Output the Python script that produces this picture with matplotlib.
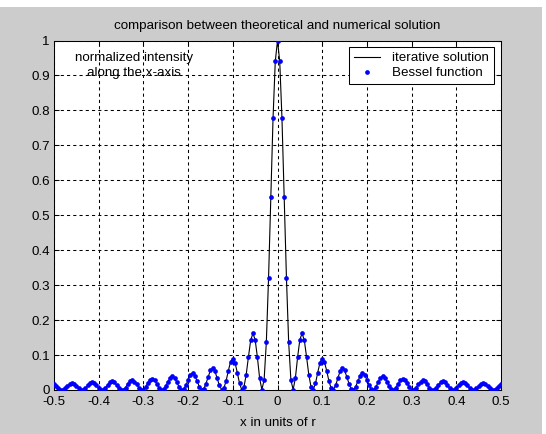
import numpy as np
import matplotlib
matplotlib.use("Agg")
import matplotlib.pyplot as plt
from matplotlib.patches import Rectangle

plt.rcParams['font.family'] = ['Liberation Sans', 'DejaVu Sans']

# sample positions along x (units of r)
x = np.linspace(-0.5, 0.5, 201)

# normalized intensity
intensity = [
    0.016, 0.011, 0.005, 0.001, 0.001, 0.005, 0.011, 0.017, 0.020, 0.018,
    0.012, 0.005, 0.001, 0.001, 0.005, 0.013, 0.019, 0.022, 0.019, 0.013,
    0.005, 0.001, 0.001, 0.006, 0.015, 0.022, 0.025, 0.022, 0.014, 0.006,
    0.001, 0.001, 0.007, 0.017, 0.025, 0.028, 0.024, 0.016, 0.006, 0.001,
    0.001, 0.009, 0.020, 0.029, 0.032, 0.028, 0.018, 0.007, 0.001, 0.002,
    0.011, 0.024, 0.035, 0.039, 0.034, 0.022, 0.008, 0.001, 0.002, 0.013,
    0.029, 0.043, 0.048, 0.041, 0.026, 0.010, 0.001, 0.003, 0.018, 0.038,
    0.056, 0.062, 0.054, 0.034, 0.013, 0.001, 0.005, 0.026, 0.055, 0.081,
    0.090, 0.078, 0.050, 0.019, 0.001, 0.009, 0.044, 0.095, 0.142, 0.162,
    0.144, 0.094, 0.034, 0.001, 0.028, 0.136, 0.321, 0.552, 0.777, 0.940,
    1.000,
    0.940, 0.777, 0.552, 0.321, 0.136, 0.028, 0.001, 0.034, 0.094, 0.144,
    0.162, 0.142, 0.095, 0.044, 0.009, 0.001, 0.019, 0.050, 0.078, 0.090,
    0.081, 0.055, 0.026, 0.005, 0.001, 0.013, 0.034, 0.054, 0.062, 0.056,
    0.038, 0.018, 0.003, 0.001, 0.010, 0.026, 0.041, 0.048, 0.043, 0.029,
    0.013, 0.002, 0.001, 0.008, 0.022, 0.034, 0.039, 0.035, 0.024, 0.011,
    0.002, 0.001, 0.007, 0.018, 0.028, 0.032, 0.029, 0.020, 0.009, 0.001,
    0.001, 0.006, 0.016, 0.024, 0.028, 0.025, 0.017, 0.007, 0.001, 0.001,
    0.006, 0.014, 0.022, 0.025, 0.022, 0.015, 0.006, 0.001, 0.001, 0.005,
    0.013, 0.019, 0.022, 0.019, 0.013, 0.005, 0.001, 0.001, 0.005, 0.012,
    0.018, 0.020, 0.017, 0.011, 0.005, 0.001, 0.001, 0.005, 0.011, 0.016,
]

xticks = [-0.5, -0.4, -0.3, -0.2, -0.1, 0, 0.1, 0.2, 0.3, 0.4, 0.5]
xticklabels = ['-0.5', '-0.4', '-0.3', '-0.2', '-0.1', '0', '0.1', '0.2', '0.3', '0.4', '0.5']
yticks = [0, 0.1, 0.2, 0.3, 0.4, 0.5, 0.6, 0.7, 0.8, 0.9, 1]
yticklabels = ['0', '0.1', '0.2', '0.3', '0.4', '0.5', '0.6', '0.7', '0.8', '0.9', '1']

fs = 9.6
W, H = 546, 434

fig = plt.figure(figsize=(W / 100, H / 100), dpi=100, facecolor='white')
# gray figure area (white margin on top and right like the screenshot)
fig.patches.append(Rectangle((0, 0), 542 / W, (H - 7) / H, transform=fig.transFigure,
                             facecolor='#cccccc', edgecolor='none', zorder=-10))

ax = fig.add_axes([54 / W, (H - 390) / H, (501 - 54) / W, (390 - 40.5) / H])
ax.set_facecolor('white')

ax.plot(x, intensity, color='black', lw=0.8, label='iterative solution', zorder=3)
ax.plot(x, intensity, linestyle='none', marker='o', ms=3.4, mew=0, color='#0000ff',
        label='Bessel function', zorder=4)

ax.set_xlim(-0.5, 0.5)
ax.set_ylim(0, 1)
ax.set_xticks(xticks)
ax.set_xticklabels(xticklabels)
ax.set_yticks(yticks)
ax.set_yticklabels(yticklabels)
ax.tick_params(direction='in', top=True, right=True, length=3.5, width=0.75,
               labelsize=fs, pad=3)
ax.tick_params(axis='x', pad=4.5)
for s in ax.spines.values():
    s.set_linewidth(0.75)
    s.set_color('black')

ax.grid(True, color='black', linestyle=(0, (3, 3)), linewidth=0.75)
ax.set_axisbelow(True)

ax.set_title('comparison between theoretical and numerical solution', fontsize=fs, pad=8)
ax.set_xlabel('x in units of r', fontsize=fs, labelpad=6)

ax.text(-0.321, 0.928, 'normalized intensity\nalong the x-axis', fontsize=fs,
        ha='center', va='center', multialignment='center', linespacing=1.3, zorder=5)

leg = ax.legend(loc='upper right', bbox_to_anchor=(0.984, 0.98), borderaxespad=0,
                fontsize=fs, fancybox=False, framealpha=1, edgecolor='black',
                handlelength=2.0, handletextpad=0.9, borderpad=0.35, labelspacing=0.2,
                numpoints=1)
leg.get_frame().set_linewidth(0.75)

fig.savefig('out.png', dpi=100, facecolor=fig.get_facecolor())
